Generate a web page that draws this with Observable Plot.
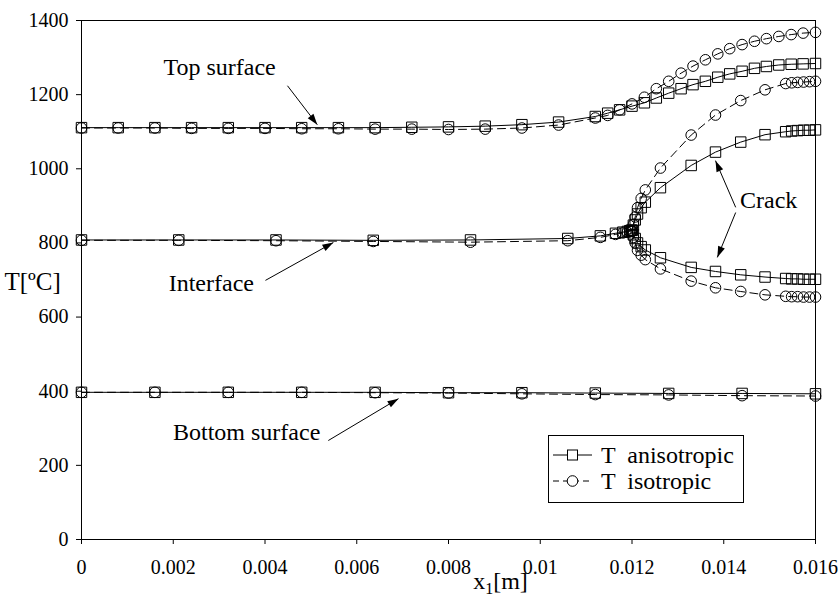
<!DOCTYPE html>
<html>
<head>
<meta charset="utf-8">
<script src="https://cdn.jsdelivr.net/npm/d3@7"></script>
<script src="https://cdn.jsdelivr.net/npm/@observablehq/plot@0.6"></script>
<style>
  html, body { margin: 0; padding: 0; background: #fff; }
  #wrap { position: relative; width: 839px; height: 601px; font-family: "Liberation Serif", Tinos, "DejaVu Serif", serif; }
  #legend { position: absolute; left: 548px; top: 435px; width: 196px; height: 68px; box-sizing: border-box;
            border: 1px solid #000; background: #fff; font-size: 24px; color: #000; font-family: "Liberation Serif", Tinos, "DejaVu Serif", serif; }
  .lrow { position: absolute; left: 4px; height: 26px; display: flex; align-items: center; white-space: pre; }
  .lrow svg { margin-right: 8px; }
  svg text { font-family: "Liberation Serif", Tinos, "DejaVu Serif", serif; }
</style>
</head>
<body>
<div id="wrap"></div>
<script>
// ---------- data ----------
const xTicks = [0, 0.002, 0.004, 0.006, 0.008, 0.010, 0.012, 0.014, 0.016];
const yTicks = [0, 200, 400, 600, 800, 1000, 1200, 1400];

// Top surface
const xTop = [0, 0.0008, 0.0016, 0.0024, 0.0032, 0.0040, 0.0048, 0.0056, 0.0064, 0.0072, 0.0080,
  0.0088, 0.0096, 0.0104, 0.0112,
  0.01147, 0.01173, 0.01200, 0.01227, 0.01253, 0.01280, 0.01307, 0.01333, 0.01360, 0.01387,
  0.01413, 0.01440, 0.01467, 0.01493, 0.01520, 0.01547, 0.01573, 0.01600];
const topAniso = [1111, 1111, 1111, 1111, 1111, 1111, 1111, 1111, 1111, 1112, 1113,
  1115, 1119, 1126, 1141,
  1150, 1159, 1169, 1178, 1191, 1204, 1216, 1227, 1236, 1247,
  1256, 1263, 1271, 1276, 1280, 1282, 1283, 1284];
const topIso = [1110, 1110, 1110, 1109, 1109, 1109, 1108, 1108, 1107, 1107, 1106,
  1107, 1110, 1118, 1137,
  1144, 1159, 1175, 1193, 1216, 1236, 1258, 1277, 1294, 1310,
  1324, 1335, 1344, 1351, 1357, 1362, 1366, 1368];

// Interface (ahead of the crack tip)
const xInterface = [0, 0.00212, 0.00424, 0.00636, 0.00848, 0.0106, 0.01131, 0.01164, 0.0118, 0.0119, 0.01195, 0.01198];
const interfaceAniso = [808, 808, 808, 807, 808, 812, 819, 826, 829, 831, 833, 834];
const interfaceIso = [807, 807, 806, 804, 802, 806, 815, 823, 827, 829, 831, 832];

// Crack faces (from the tip at x = 0.012)
const xCrack = [0.0120, 0.01203, 0.01207, 0.01212, 0.0122, 0.01229, 0.01262, 0.01329, 0.01382, 0.01437,
  0.0149, 0.01535, 0.01548, 0.01561, 0.01574, 0.01587, 0.0160];
const crackUpperAniso = [834, 848, 862, 878, 895, 910, 949, 1009, 1045, 1072, 1092, 1100, 1102, 1103, 1104, 1104, 1105];
const crackLowerAniso = [834, 822, 812, 800, 790, 781, 760, 734, 723, 714, 708, 704, 703, 703, 702, 702, 702];
const crackUpperIso = [832, 850, 870, 895, 920, 943, 1002, 1091, 1145, 1184, 1213, 1230, 1232, 1233, 1234, 1235, 1236];
const crackLowerIso = [832, 815, 800, 780, 767, 755, 730, 697, 679, 669, 660, 656, 655, 655, 654, 654, 654];

// Bottom surface
const xBottom = [0, 0.0016, 0.0032, 0.0048, 0.0064, 0.0080, 0.0096, 0.0112, 0.0128, 0.0144, 0.0160];
const bottomAniso = [397, 397, 397, 397, 397, 396, 396, 395, 394, 394, 393];
const bottomIso = [397, 397, 397, 397, 396, 395, 393, 391, 390, 388, 387];

// Annotations (data coordinates)
const annotText = ["Top surface", "Interface", "Bottom surface", "Crack"];
const annotX = [0.00301, 0.00283, 0.00360, 0.01498];
const annotT = [1275, 691, 289, 914];
const arrowX1 = [0.00449, 0.00401, 0.00538, 0.01426, 0.01426];
const arrowT1 = [1224, 699, 267, 896, 882];
const arrowX2 = [0.00514, 0.00549, 0.00691, 0.01382, 0.01386];
const arrowT2 = [1119, 801, 380, 1022, 761];

const legendLabels = ["T  anisotropic", "T  isotropic"];
const xLabel = "x1[m]";
const yLabel = "T[ºC]";

// ---------- build table ----------
const rows = [];
function add(xs, ts, model, part) { xs.forEach((x, i) => rows.push({x, T: ts[i], model, part})); }
add(xTop, topAniso, "aniso", "top");
add(xTop, topIso, "iso", "top");
add(xInterface.concat(xCrack), interfaceAniso.concat(crackUpperAniso), "aniso", "upper");
add(xInterface.concat(xCrack), interfaceIso.concat(crackUpperIso), "iso", "upper");
add(xCrack, crackLowerAniso, "aniso", "lower");
add(xCrack, crackLowerIso, "iso", "lower");
add(xBottom, bottomAniso, "aniso", "bottom");
add(xBottom, bottomIso, "iso", "bottom");
const aniso = rows.filter(d => d.model === "aniso");
const iso = rows.filter(d => d.model === "iso");
const annots = annotText.map((t, i) => ({t, x: annotX[i], T: annotT[i]}));
const arrows = arrowX1.map((x1, i) => ({x1, T1: arrowT1[i], x2: arrowX2[i], T2: arrowT2[i]}));

const serif = '"Liberation Serif", Tinos, "DejaVu Serif", serif';
const chart = Plot.plot({
  width: 839, height: 601,
  marginLeft: 81, marginRight: 24, marginTop: 20, marginBottom: 62,
  style: {fontFamily: serif, fontSize: "20px", color: "black", background: "white"},
  x: {domain: [0, 0.016], ticks: xTicks, tickFormat: d3.format("~g"), tickSize: 5, tickPadding: 15, label: null},
  y: {domain: [0, 1400], ticks: yTicks, tickFormat: d3.format("d"), tickSize: 5, tickPadding: 8, label: null},
  marks: [
    Plot.frame({stroke: "black", strokeWidth: 1}),
    Plot.line(aniso, {x: "x", y: "T", z: "part", stroke: "black", strokeWidth: 1}),
    Plot.line(iso, {x: "x", y: "T", z: "part", stroke: "black", strokeWidth: 1, strokeDasharray: "8,5"}),
    Plot.dot(iso, {x: "x", y: "T", symbol: "circle", r: 5.3, stroke: "black", fill: "none", strokeWidth: 1}),
    Plot.dot(aniso, {x: "x", y: "T", symbol: "square", r: 5.9, stroke: "black", fill: "none", strokeWidth: 1}),
    Plot.link(arrows, {x1: "x1", y1: "T1", x2: "x2", y2: "T2", stroke: "black", strokeWidth: 1, markerEnd: "arrow"}),
    Plot.text(annots, {x: "x", y: "T", text: "t", fontSize: 24, fill: "black", textAnchor: "middle"}),
    Plot.text([xLabel], {frameAnchor: "bottom", dx: 52, dy: 49, fontSize: 24, fill: "black"}),
    Plot.text([yLabel], {frameAnchor: "left", dx: -77, dy: 2, textAnchor: "start", fontSize: 25, fill: "black"})
  ]
});

// filled arrowheads
chart.querySelectorAll("marker").forEach(m => {
  m.setAttribute("viewBox", "-12 -6 14 12");
  m.setAttribute("markerWidth", 14);
  m.setAttribute("markerHeight", 12);
  m.setAttribute("fill", "black");
  m.setAttribute("stroke", "none");
  m.innerHTML = '<path d="M-11,-3.6L0,0L-11,3.6Z"></path>';
});
// subscript in x label
chart.querySelectorAll("text").forEach(t => {
  if (t.textContent === xLabel) {
    t.textContent = "";
    const ns = "http://www.w3.org/2000/svg";
    const a = document.createElementNS(ns, "tspan"); a.textContent = "x";
    const b = document.createElementNS(ns, "tspan"); b.textContent = "1"; b.setAttribute("font-size", "16"); b.setAttribute("dy", "5");
    const c = document.createElementNS(ns, "tspan"); c.textContent = "[m]"; c.setAttribute("dy", "-5");
    t.append(a, b, c);
  }
});

const wrap = document.getElementById("wrap");
wrap.appendChild(chart);

// legend
const legend = document.createElement("div");
legend.id = "legend";
legendLabels.forEach((lab, i) => {
  const row = document.createElement("div");
  row.className = "lrow";
  row.style.top = (6 + i * 26) + "px";
  const dash = i === 1 ? ' stroke-dasharray="6,4"' : '';
  const sym = i === 0
    ? '<rect x="14.5" y="5" width="10" height="10" fill="white" stroke="black"/>'
    : '<circle cx="19.5" cy="10" r="5.3" fill="white" stroke="black"/>';
  row.innerHTML = '<svg width="40" height="20"><line x1="0" x2="39" y1="10" y2="10" stroke="black"' + dash + '/>' + sym + '</svg><span></span>';
  row.querySelector("span").textContent = lab;
  legend.appendChild(row);
});
wrap.appendChild(legend);
</script>
</body>
</html>
